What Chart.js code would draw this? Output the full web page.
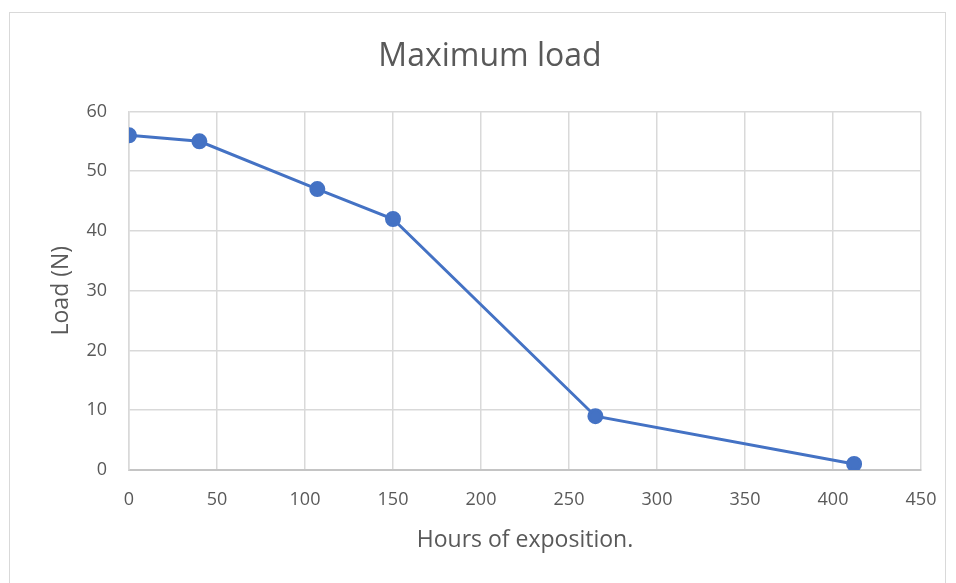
<!DOCTYPE html>
<html>
<head>
<meta charset="utf-8">
<script src="https://cdn.jsdelivr.net/npm/chart.js@4/dist/chart.umd.min.js"></script>
<style>
  html, body { margin: 0; padding: 0; background: #fff; }
  #wrap { position: relative; width: 956px; height: 583px; }
  #frame { position: absolute; left: 9px; top: 12px; width: 937px; height: 600px; border: 1px solid #d9d9d9; box-sizing: border-box; }
  canvas { position: absolute; left: 0; top: 0; }
</style>
</head>
<body>
<div id="wrap">
  <div id="frame"></div>
  <canvas id="chart" width="956" height="583"></canvas>
</div>
<script>
// hours of exposition vs maximum load
let hours = [0, 40, 107, 150, 265, 412];
let load = [56, 55, 47, 42, 9, 1];

let points = hours.map((h, i) => ({ x: h, y: load[i] }));

const fontFamily = '"Open Sans", "Noto Sans", sans-serif';
const grey = '#595959';
const gridGrey = '#d9d9d9';

function generateChart(){
    let context = document.getElementById("chart").getContext("2d");
    let chart = new Chart(context, {
        type: 'scatter',
        data: {
            datasets: [{
                label: 'Maximum load',
                data: points,
                showLine: true,
                borderColor: '#4472C4',
                backgroundColor: '#4472C4',
                borderWidth: 3,
                pointRadius: 6.5,
                pointHoverRadius: 6.5
            }]
        },
        options: {
            responsive: false,
            animation: false,
            layout: { padding: { left: 24, right: 0, top: 0, bottom: 0 } },
            plugins: {
                legend: { display: false },
                tooltip: { enabled: false },
                title: {
                    display: true,
                    text: 'Maximum load',
                    color: grey,
                    font: { family: fontFamily, size: 32, weight: 'normal', lineHeight: 1.2 },
                    padding: { top: 38, bottom: 35 }
                }
            },
            scales: {
                x: {
                    type: 'linear',
                    min: 0,
                    max: 450,
                    ticks: { stepSize: 50, color: grey, padding: 19, font: { family: fontFamily, size: 18 } },
                    grid: { color: gridGrey, lineWidth: 1.5, drawTicks: false },
                    border: { color: '#c4c4c4', width: 2 },
                    title: {
                        display: true,
                        text: 'Hours of exposition.',
                        color: grey,
                        font: { family: fontFamily, size: 23 },
                        padding: { top: 0, bottom: 29 }
                    },
                    afterFit: (scale) => { scale.height = 113; }
                },
                y: {
                    min: 0,
                    max: 60,
                    ticks: { stepSize: 10, color: grey, padding: 22, font: { family: fontFamily, size: 18 } },
                    grid: { color: gridGrey, lineWidth: 1.5, drawTicks: false },
                    border: { color: gridGrey, width: 1.5 },
                    title: {
                        display: true,
                        text: 'Load (N)',
                        color: grey,
                        font: { family: fontFamily, size: 23 },
                        padding: { top: 24, bottom: 0 }
                    },
                    afterFit: (scale) => { scale.width = 105; }
                },
                // empty right-hand box that keeps the plot area clear of the frame
                spacer: {
                    type: 'linear',
                    position: 'right',
                    display: true,
                    ticks: { display: false },
                    grid: { display: false, drawTicks: false },
                    border: { display: false },
                    afterFit: (scale) => { scale.width = 35; }
                }
            }
        }
    });
    return chart;
}

generateChart();
</script>
</body>
</html>
